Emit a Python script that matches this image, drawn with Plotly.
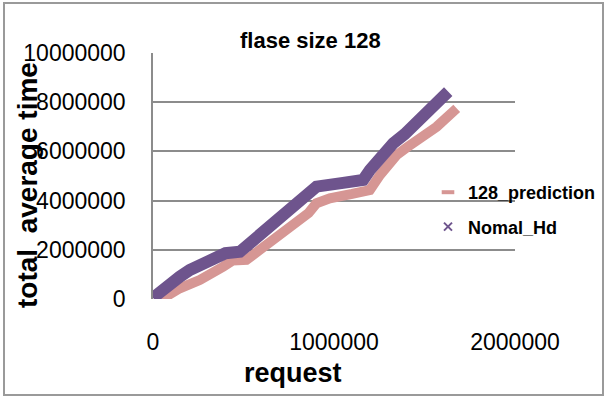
import plotly.graph_objects as go

# Data
pred_x = [30000, 55000, 148000, 258000, 387000, 440000, 516000, 572000, 645000, 720000,
          793000, 860000, 903000, 977000, 1100000, 1198000, 1254000, 1346000, 1400000,
          1475000, 1567000, 1678000]
pred_y = [0, 30000, 435000, 772000, 1310000, 1560000, 1590000, 1900000, 2400000, 2750000,
          3140000, 3500000, 3890000, 4090000, 4270000, 4430000, 5040000, 5850000, 6150000,
          6530000, 7000000, 7750000]

hd_x = [0, 19000, 92000, 148000, 203000, 351000, 400000, 480000, 535000, 590000, 660000,
        737000, 800000, 848000, 903000, 1050000, 1161000, 1198000, 1272000, 1327000,
        1390000, 1456000, 1631000]
hd_y = [50000, 163000, 703000, 907000, 1180000, 1720000, 1860000, 1920000, 2260000, 2670000,
        3050000, 3480000, 3850000, 4300000, 4570000, 4720000, 4840000, 5240000, 5920000,
        6330000, 6700000, 7140000, 8430000]

x_ticks = [0, 1000000, 2000000]
y_ticks = [0, 2000000, 4000000, 6000000, 8000000, 10000000]

PINK = "#D69694"
PURPLE = "#6E548D"
GRID = "#8C8C8C"
FONT = "Liberation Sans, Arial, sans-serif"

fig = go.Figure()
fig.add_trace(go.Scatter(x=pred_x, y=pred_y, mode="lines", line=dict(color=PINK, width=10),
                         showlegend=False, hoverinfo="skip"))
fig.add_trace(go.Scatter(x=hd_x, y=hd_y, mode="lines", line=dict(color=PURPLE, width=12),
                         showlegend=False, hoverinfo="skip"))
# legend entries
fig.add_trace(go.Scatter(x=[None], y=[None], mode="markers", name="128_prediction",
                         legendgroup="a",
                         marker=dict(symbol="line-ew", size=9, line=dict(color=PINK, width=4))))
fig.add_trace(go.Scatter(x=[None], y=[None], mode="markers", name="Nomal_Hd",
                         legendgroup="b",
                         marker=dict(symbol="x-thin", size=8, line=dict(color=PURPLE, width=2))))

L, R, T, B = 153, 92, 53, 99
W, H = 607, 398
pw, ph = W - L - R, H - T - B

def px(x):
    return (x - L) / pw

def py(y):
    return (H - B - y) / ph

fig.update_layout(
    width=W, height=H,
    margin=dict(l=L, r=R, t=T, b=B, autoexpand=False),
    paper_bgcolor="white", plot_bgcolor="white",
    font=dict(family=FONT, color="black"),
    showlegend=True,
    legend=dict(x=px(428), y=py(174), xanchor="left", yanchor="top",
                font=dict(size=18, family=FONT, weight="bold"),
                bgcolor="rgba(0,0,0,0)", tracegroupgap=8, itemwidth=30),
    xaxis=dict(range=[0, 2000000], tickvals=x_ticks, ticktext=[str(v) for v in x_ticks],
               showgrid=False, zeroline=False, showline=False, ticks="",
               tickfont=dict(size=23), ticklabelstandoff=27),
    yaxis=dict(range=[0, 10000000], tickvals=y_ticks, ticktext=[str(v) for v in y_ticks],
               showgrid=True, gridcolor=GRID, gridwidth=1.5, zeroline=False,
               showline=True, linecolor=GRID, linewidth=1.5, ticks="",
               tickfont=dict(size=23), ticklabelstandoff=21),
    annotations=[
        dict(text="<b>flase size 128</b>", x=px(310), y=py(40), xref="paper", yref="paper",
             showarrow=False, font=dict(size=22), xanchor="center", yanchor="middle"),
        dict(text="<b>request</b>", x=px(293), y=py(373), xref="paper", yref="paper",
             showarrow=False, font=dict(size=27), xanchor="center", yanchor="middle"),
        dict(text="<b>total  average time</b>", x=px(27), y=py(185), xref="paper", yref="paper",
             showarrow=False, font=dict(size=28), textangle=-90,
             xanchor="center", yanchor="middle"),
    ],
    shapes=[dict(type="rect", xref="paper", yref="paper",
                 x0=px(4), x1=px(603), y0=py(395), y1=py(3),
                 line=dict(color="#9A9A9A", width=2), layer="below")],
)

fig.write_html("out.html")
